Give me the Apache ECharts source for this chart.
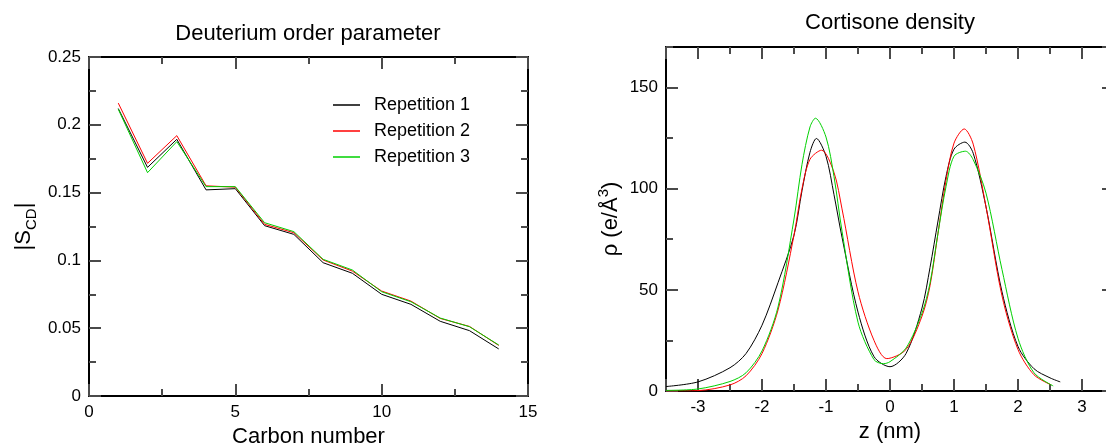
<!DOCTYPE html>
<html>
<head>
<meta charset="utf-8">
<script src="https://cdn.jsdelivr.net/npm/echarts@6/dist/echarts.min.js"></script>
<style>
  html, body { margin: 0; padding: 0; background: #fff; }
  #main { width: 1106px; height: 444px; }
</style>
</head>
<body>
<div id="main"></div>
<script>
// left panel: order parameter per carbon
var carbon = [1, 2, 3, 4, 5, 6, 7, 8, 9, 10, 11, 12, 13, 14];
var rep1 = [0.212, 0.1686, 0.1893, 0.152, 0.1529, 0.1256, 0.1192, 0.0983, 0.0905, 0.075, 0.0676, 0.0551, 0.0482, 0.0347];
var rep2 = [0.216, 0.1716, 0.192, 0.155, 0.154, 0.1266, 0.1204, 0.1003, 0.0921, 0.0774, 0.070, 0.0572, 0.0513, 0.0373];
var rep3 = [0.2115, 0.1647, 0.1876, 0.1544, 0.1544, 0.1278, 0.1212, 0.1008, 0.0929, 0.0769, 0.0695, 0.0575, 0.0511, 0.0376];

// right panel: density profiles along z
var zBlack = [-3.5, -3.0, -2.5, -2.25, -2.0, -1.75, -1.5, -1.375, -1.25, -1.15, -1.0, -0.875, -0.75, -0.5, -0.25, 0, 0.25, 0.5, 0.625, 0.75, 0.875, 1.0, 1.17, 1.3, 1.5, 1.75, 2.0, 2.25, 2.5, 2.66];
var rhoBlack = [2.2, 4.5, 11.5, 18.5, 32.5, 53.5, 77, 99, 118, 124.8, 116, 97, 76, 39, 17, 12, 18.5, 41, 61, 84, 106, 119.5, 123, 117.5, 91, 49, 22, 11, 6.5, 4.5];
var zRed = [-3.5, -3.0, -2.5, -2.25, -2.0, -1.75, -1.5, -1.375, -1.25, -1.07, -0.875, -0.75, -0.5, -0.25, -0.05, 0.25, 0.5, 0.625, 0.75, 0.875, 1.0, 1.16, 1.3, 1.5, 1.75, 2.0, 2.25, 2.52];
var rhoRed = [0, 0.2, 3, 7.5, 18.5, 40, 77, 100, 114.5, 119, 108, 90, 49, 25, 16, 20.5, 37, 52, 78, 104, 122.5, 129.5, 122, 91, 47, 20.5, 8, 3];
var zGreen = [-3.5, -3.0, -2.5, -2.25, -2.0, -1.75, -1.5, -1.375, -1.25, -1.165, -1.0, -0.875, -0.75, -0.5, -0.25, -0.1, 0, 0.25, 0.5, 0.625, 0.75, 0.875, 1.0, 1.18, 1.3, 1.5, 1.75, 2.0, 2.25, 2.55];
var rhoGreen = [0.3, 1, 4.7, 9, 19.8, 41.5, 85, 112, 130.5, 134.8, 125.5, 106, 79, 34, 15.5, 13.5, 14.5, 21.2, 38.5, 53.3, 78, 101, 116, 118.5, 114.3, 97.8, 60, 26, 9, 2.5];

var FONT = 'Liberation Sans';
var colors = ['#000000', '#ff0000', '#00d000'];

function pairs(xs, ys) {
    var out = [];
    for (var i = 0; i < xs.length; i++) out.push([xs[i], ys[i]]);
    return out;
}

var tickColor = '#4a4a4a';
var axisLine = { onZero: false, lineStyle: { color: '#000', width: 2 } };
var tickBig = { inside: true, length: 12, lineStyle: { color: tickColor, width: 2 } };
var tickSmall = { inside: true, length: 7, lineStyle: { color: tickColor, width: 2 } };
var minorSmall = { show: true, splitNumber: 2, length: 7, lineStyle: { color: tickColor, width: 2 } };
var labelStyle = { fontSize: 17, color: '#000', fontFamily: FONT, margin: 8 };
var nameStyle = { fontSize: 22, color: '#000', fontFamily: FONT };

var option = {
    animation: false,
    backgroundColor: '#fff',
    graphic: [
        { type: 'text', x: 308, y: 34, style: { text: 'Deuterium order parameter', fontSize: 22, fontFamily: FONT, fill: '#000', align: 'center', verticalAlign: 'middle' } },
        { type: 'text', x: 890, y: 23, style: { text: 'Cortisone density', fontSize: 22, fontFamily: FONT, fill: '#000', align: 'center', verticalAlign: 'middle' } }
    ],
    legend: {
        orient: 'vertical',
        left: 333,
        top: 96,
        padding: 0,
        itemGap: 8,
        itemWidth: 27,
        itemHeight: 1.5,
        icon: 'rect',
        data: ['Repetition 1', 'Repetition 2', 'Repetition 3'],
        textStyle: { fontSize: 18, lineHeight: 18, color: '#000', fontFamily: FONT, padding: [0, 0, 0, 9] }
    },
    grid: [
        { left: 89, top: 57, width: 439, height: 339, outerBoundsMode: 'none' },
        // right frame sits just past the canvas edge, as in the original figure
        { left: 666, top: 47, width: 448, height: 344, outerBoundsMode: 'none' }
    ],
    xAxis: [
        // left panel
        {
            type: 'value', gridIndex: 0, position: 'bottom', min: 0, max: 15, interval: 5,
            axisLine: axisLine, axisTick: tickBig, splitLine: { show: false }, minorTick: minorSmall,
            axisLabel: labelStyle,
            name: 'Carbon number', nameLocation: 'middle', nameGap: 25, nameTextStyle: nameStyle
        },
        {
            type: 'value', gridIndex: 0, position: 'top', min: 0, max: 15, interval: 5,
            axisLine: axisLine, axisTick: tickBig, splitLine: { show: false }, minorTick: minorSmall,
            axisLabel: { show: false }
        },
        // right panel, small ticks every 0.5 + labels
        {
            type: 'value', gridIndex: 1, position: 'bottom', min: -3.5, max: 3.5, interval: 0.5,
            axisLine: axisLine, axisTick: tickSmall, splitLine: { show: false },
            axisLabel: {
                fontSize: 17, color: '#000', fontFamily: FONT, margin: 8,
                formatter: function (v) { return Math.abs(v % 1) < 1e-9 ? String(v) : ''; }
            },
            name: 'z (nm)', nameLocation: 'middle', nameGap: 30, nameTextStyle: nameStyle
        },
        {
            type: 'value', gridIndex: 1, position: 'bottom', min: -3.5, max: 3.5, splitNumber: 7, minInterval: 1, maxInterval: 1,
            axisLine: { show: false, onZero: false }, axisTick: tickBig, splitLine: { show: false }, axisLabel: { show: false }
        },
        {
            type: 'value', gridIndex: 1, position: 'top', min: -3.5, max: 3.5, interval: 0.5,
            axisLine: axisLine, axisTick: tickSmall, splitLine: { show: false }, axisLabel: { show: false }
        },
        {
            type: 'value', gridIndex: 1, position: 'top', min: -3.5, max: 3.5, splitNumber: 7, minInterval: 1, maxInterval: 1,
            axisLine: { show: false, onZero: false }, axisTick: tickBig, splitLine: { show: false }, axisLabel: { show: false }
        }
    ],
    yAxis: [
        {
            type: 'value', gridIndex: 0, position: 'left', min: 0, max: 0.25, interval: 0.05,
            axisLine: axisLine, axisTick: tickBig, splitLine: { show: false }, minorTick: minorSmall,
            axisLabel: labelStyle,
            name: '{m||S}{s|CD}{m||}', nameLocation: 'middle', nameRotate: 90, nameGap: 54,
            nameTextStyle: {
                fontSize: 22, color: '#000', fontFamily: FONT,
                rich: {
                    m: { fontSize: 22, lineHeight: 22, fontFamily: FONT, color: '#000', verticalAlign: 'middle' },
                    s: { fontSize: 15, lineHeight: 15, fontFamily: FONT, color: '#000', verticalAlign: 'middle', padding: [16, 0, 0, 0] }
                }
            }
        },
        {
            type: 'value', gridIndex: 0, position: 'right', min: 0, max: 0.25, interval: 0.05,
            axisLine: axisLine, axisTick: tickBig, splitLine: { show: false }, minorTick: minorSmall,
            axisLabel: { show: false }
        },
        // right panel
        {
            type: 'value', gridIndex: 1, position: 'left', min: 0, max: 170, interval: 50,
            axisLine: axisLine, axisTick: tickBig, splitLine: { show: false },
            axisLabel: { fontSize: 17, color: '#000', fontFamily: FONT, margin: 8, showMaxLabel: false },
            name: '{m|ρ (e/Å}{p|3}{m|)}', nameLocation: 'middle', nameRotate: 90, nameGap: 40,
            nameTextStyle: {
                fontSize: 22, color: '#000', fontFamily: FONT,
                rich: {
                    m: { fontSize: 22, lineHeight: 22, fontFamily: FONT, color: '#000', verticalAlign: 'middle' },
                    p: { fontSize: 15, lineHeight: 15, fontFamily: FONT, color: '#000', verticalAlign: 'middle', padding: [0, 0, 14, 0] }
                }
            }
        },
        {
            type: 'value', gridIndex: 1, position: 'left', min: 0, max: 170, interval: 25,
            axisLine: { show: false, onZero: false }, axisTick: tickSmall, splitLine: { show: false }, axisLabel: { show: false }
        },
        {
            type: 'value', gridIndex: 1, position: 'right', min: 0, max: 170, interval: 50,
            axisLine: axisLine, axisTick: tickBig, splitLine: { show: false }, axisLabel: { show: false }
        },
        {
            type: 'value', gridIndex: 1, position: 'right', min: 0, max: 170, interval: 25,
            axisLine: { show: false, onZero: false }, axisTick: tickSmall, splitLine: { show: false }, axisLabel: { show: false }
        }
    ],
    series: [
        { name: 'Repetition 1', type: 'line', xAxisIndex: 0, yAxisIndex: 0, symbol: 'none', data: pairs(carbon, rep1),
          lineStyle: { color: colors[0], width: 1 }, itemStyle: { color: colors[0] } },
        { name: 'Repetition 2', type: 'line', xAxisIndex: 0, yAxisIndex: 0, symbol: 'none', data: pairs(carbon, rep2),
          lineStyle: { color: colors[1], width: 1 }, itemStyle: { color: colors[1] } },
        { name: 'Repetition 3', type: 'line', xAxisIndex: 0, yAxisIndex: 0, symbol: 'none', data: pairs(carbon, rep3),
          lineStyle: { color: colors[2], width: 1 }, itemStyle: { color: colors[2] } },
        { name: 'density 1', type: 'line', xAxisIndex: 2, yAxisIndex: 2, symbol: 'none', smooth: 0.3, data: pairs(zBlack, rhoBlack),
          lineStyle: { color: colors[0], width: 1 }, itemStyle: { color: colors[0] } },
        { name: 'density 2', type: 'line', xAxisIndex: 2, yAxisIndex: 2, symbol: 'none', smooth: 0.3, data: pairs(zRed, rhoRed),
          lineStyle: { color: colors[1], width: 1 }, itemStyle: { color: colors[1] } },
        { name: 'density 3', type: 'line', xAxisIndex: 2, yAxisIndex: 2, symbol: 'none', smooth: 0.3, data: pairs(zGreen, rhoGreen),
          lineStyle: { color: colors[2], width: 1 }, itemStyle: { color: colors[2] } }
    ]
};

var myChart = echarts.init(document.getElementById('main'));
myChart.setOption(option);
</script>
</body>
</html>
